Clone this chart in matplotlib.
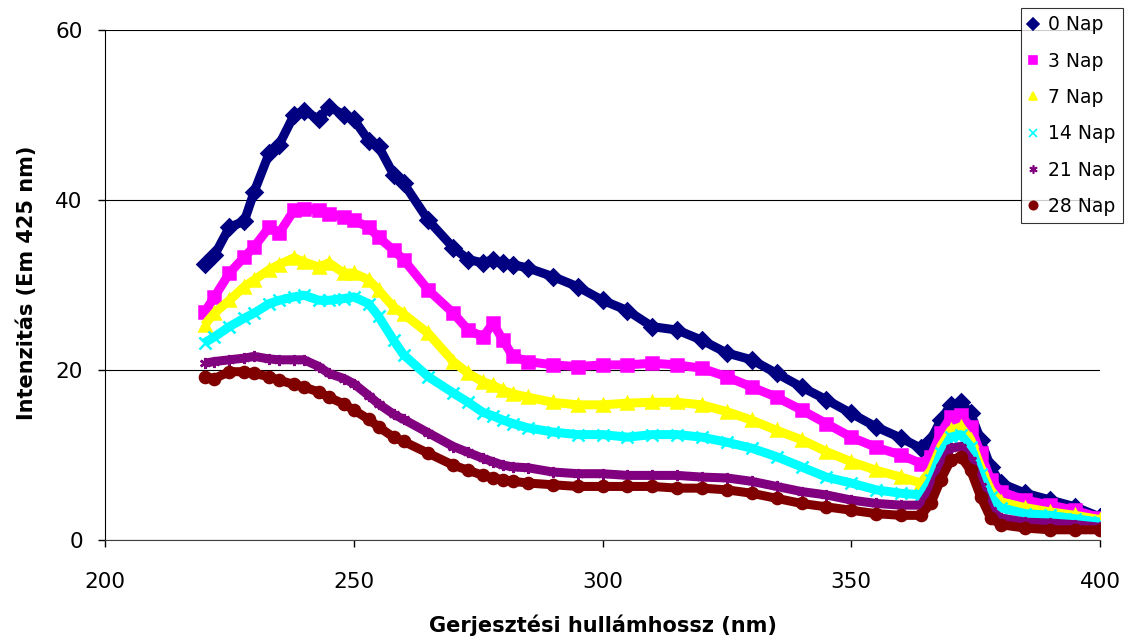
import matplotlib
matplotlib.use("Agg")
import matplotlib.pyplot as plt
from matplotlib.lines import Line2D

plt.rcParams['font.family'] = ['DejaVu Sans']

# excitation wavelength (nm)
wavelength = [220, 222, 225, 228, 230, 233, 235, 238, 240, 243, 245, 248, 250, 253, 255, 258, 260,
              265, 270, 273, 276, 278, 280, 282, 285,
              290, 295, 300, 305, 310, 315, 320, 325, 330, 335, 340, 345, 350, 355, 360,
              364, 366, 368, 370, 372, 374, 376, 378, 380, 385, 390, 395, 400]

nap_0 = [32.5, 33.5, 36.8, 37.5, 41.0, 45.5, 46.5, 50.0, 50.5, 49.5, 51.0, 50.0, 49.5, 47.0, 46.3, 43.0, 42.0,
         37.6, 34.4, 33.0, 32.6, 33.0, 32.6, 32.4, 32.0,
         31.0, 29.8, 28.2, 27.0, 25.1, 24.7, 23.5, 22.0, 21.2, 19.6, 18.0, 16.5, 14.9, 13.3, 12.0,
         10.8, 11.8, 14.1, 15.9, 16.2, 14.9, 11.8, 8.6, 6.7, 5.5, 4.7, 3.9, 2.7]

nap_3 = [26.8, 28.6, 31.4, 33.3, 34.5, 36.8, 36.1, 38.8, 39.0, 38.8, 38.4, 38.0, 37.6, 36.8, 35.6, 34.1, 33.0,
         29.4, 26.7, 24.7, 23.9, 25.5, 23.5, 21.6, 21.0,
         20.6, 20.4, 20.6, 20.6, 20.8, 20.6, 20.2, 19.2, 18.0, 16.8, 15.3, 13.7, 12.1, 10.9, 10.0,
         9.0, 9.8, 12.6, 14.5, 14.7, 13.3, 10.2, 7.1, 5.7, 4.7, 4.1, 3.5, 2.6]

nap_7 = [25.3, 26.7, 28.2, 29.8, 30.6, 31.8, 32.4, 33.2, 32.7, 32.1, 32.6, 31.4, 31.4, 30.6, 29.4, 27.4, 26.6,
         24.3, 21.0, 19.6, 18.6, 18.2, 17.6, 17.2, 16.8,
         16.2, 15.9, 15.9, 16.1, 16.2, 16.2, 15.9, 15.1, 14.1, 12.9, 11.8, 10.4, 9.2, 8.2, 7.4,
         6.7, 8.2, 11.0, 12.9, 13.3, 11.8, 8.6, 5.9, 4.5, 3.8, 3.3, 2.9, 2.4]

nap_14 = [23.2, 23.9, 25.1, 26.1, 26.7, 27.8, 28.2, 28.6, 28.8, 28.2, 28.2, 28.4, 28.6, 27.8, 26.3, 23.5, 21.8,
          19.2, 17.3, 16.2, 15.0, 14.6, 14.1, 13.7, 13.2,
          12.7, 12.4, 12.4, 12.1, 12.4, 12.4, 12.1, 11.5, 10.8, 9.8, 8.6, 7.4, 6.7, 5.9, 5.5,
          5.3, 7.1, 10.2, 12.1, 12.4, 11.0, 7.8, 5.1, 3.8, 3.1, 2.9, 2.5, 2.1]

nap_21 = [20.8, 21.0, 21.2, 21.4, 21.6, 21.3, 21.2, 21.2, 21.2, 20.4, 19.6, 19.0, 18.4, 17.0, 16.0, 14.8, 14.2,
          12.6, 11.0, 10.3, 9.6, 9.2, 8.8, 8.6, 8.5,
          8.0, 7.8, 7.8, 7.6, 7.6, 7.6, 7.4, 7.3, 6.9, 6.3, 5.7, 5.3, 4.7, 4.3, 4.1,
          4.1, 5.9, 8.6, 10.8, 11.0, 9.4, 6.3, 3.5, 2.6, 2.1, 2.0, 1.8, 1.5]

nap_28 = [19.2, 19.0, 19.8, 19.8, 19.6, 19.2, 18.8, 18.3, 18.0, 17.4, 16.8, 16.0, 15.3, 14.2, 13.3, 12.1, 11.6,
          10.2, 8.8, 8.2, 7.6, 7.3, 7.1, 6.9, 6.7,
          6.5, 6.3, 6.3, 6.3, 6.3, 6.1, 6.1, 5.9, 5.5, 4.9, 4.3, 3.9, 3.5, 3.1, 2.9,
          2.9, 4.3, 7.1, 9.4, 9.8, 8.2, 5.1, 2.6, 1.8, 1.4, 1.2, 1.2, 1.2]

labels = ['0 Nap', '3 Nap', '7 Nap', '14 Nap', '21 Nap', '28 Nap']
series = [nap_0, nap_3, nap_7, nap_14, nap_21, nap_28]
colors = ['#000080', '#FF00FF', '#FFFF00', '#00FFFF', '#800080', '#800000']
markers = ['D', 's', '^', 'x', (6, 2, 0), 'o']

fig = plt.figure(figsize=(11.25, 6.36), dpi=100)
ax = fig.add_axes([105 / 1125, 96 / 636, 995 / 1125, 510 / 636])

handles = []
for y, lab, c, m in zip(series, labels, colors, markers):
    # thick line + markers to imitate the dense marker band
    ax.plot(wavelength, y, color=c, linewidth=6.5, solid_joinstyle='round',
            solid_capstyle='butt', marker=m, markersize=8, markeredgewidth=1.8,
            markeredgecolor=c, markerfacecolor=c)
    handles.append(Line2D([], [], linestyle='none', marker=m, color=c,
                          markersize=6, markeredgewidth=1.2))

ax.set_xlim(200, 400)
ax.set_ylim(0, 60)
ax.set_xticks([200, 250, 300, 350, 400])
ax.set_yticks([0, 20, 40, 60])
ax.tick_params(axis='both', labelsize=15.5, length=5, width=1, direction='out', color='black')
ax.tick_params(axis='x', pad=18)
ax.tick_params(axis='y', pad=11)

ax.grid(axis='y', color='black', linewidth=0.8)
ax.set_axisbelow(True)
ax.spines['top'].set_visible(False)
ax.spines['right'].set_visible(False)
ax.spines['left'].set_color('black')
ax.spines['bottom'].set_color('#404040')

fig.text(603 / 1125, 4 / 636, 'Gerjesztési hullámhossz (nm)', ha='center', va='baseline',
         fontsize=15, fontweight='bold')
fig.text(33 / 1125, (636 - 282.5) / 636, 'Intenzitás (Em 425 nm)', ha='center', va='baseline',
         rotation=90, rotation_mode='anchor', fontsize=15, fontweight='bold')

leg = ax.legend(handles, labels, loc='upper left', bbox_to_anchor=((1021 - 105) / 995, (540 - 8) / 510),
                fontsize=13.5, frameon=True, fancybox=False, edgecolor='black', borderaxespad=0,
                handlelength=0.5, handletextpad=0.55, labelspacing=0.92, borderpad=0.4)
leg.get_frame().set_linewidth(0.8)
leg.set_zorder(10)

fig.savefig('out.png', dpi=100)
